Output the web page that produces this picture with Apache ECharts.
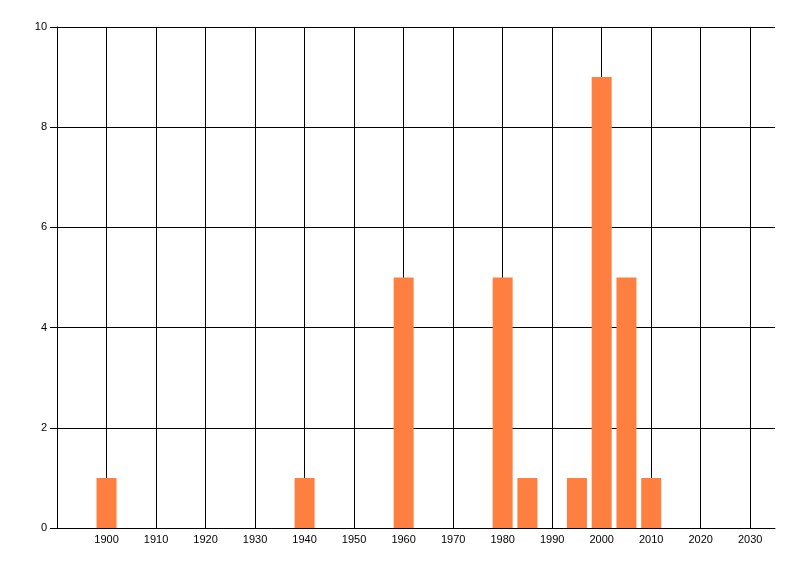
<!DOCTYPE html>
<html>
<head>
<meta charset="utf-8">
<script src="https://cdn.jsdelivr.net/npm/echarts@6/dist/echarts.min.js"></script>
<style>
  html, body { margin: 0; padding: 0; background: #fff; }
  #chart { width: 800px; height: 576px; }
</style>
</head>
<body>
<div id="chart"></div>
<script>
var years = [1900, 1940, 1960, 1980, 1985, 1995, 2000, 2005, 2010];
var counts = [1, 1, 5, 5, 1, 1, 9, 5, 1];
var xTicks = [1900, 1910, 1920, 1930, 1940, 1950, 1960, 1970, 1980, 1990, 2000, 2010, 2020, 2030];

var chart = echarts.init(document.getElementById('chart'));

var barData = [];
for (var i = 0; i < years.length; i++) {
  barData.push([years[i], counts[i]]);
}

// vertical grid lines at the decade ticks (no line at the right edge)
var gridLines = [];
for (var j = 0; j < xTicks.length; j++) {
  gridLines.push({ xAxis: xTicks[j] });
}

var option = {
  animation: false,
  textStyle: { fontFamily: 'Liberation Sans', fontSize: 11, color: '#000' },
  grid: { left: 57, right: 25, top: 27, bottom: 48 },
  xAxis: {
    type: 'value',
    min: 1890,
    max: 2035,
    interval: 10,
    axisLine: { lineStyle: { color: '#000', width: 1 } },
    axisTick: { show: false },
    splitLine: { show: false },
    axisLabel: {
      color: '#000', fontSize: 11, margin: 6,
      showMinLabel: false, showMaxLabel: false,
      formatter: function (v) { return String(v); }
    }
  },
  yAxis: {
    type: 'value',
    min: 0,
    max: 10,
    interval: 2,
    axisLine: { show: true, lineStyle: { color: '#000', width: 1 } },
    axisTick: { show: true, length: 7, lineStyle: { color: '#000' } },
    splitLine: { show: true, lineStyle: { color: '#000', width: 1 } },
    axisLabel: { color: '#000', fontSize: 11, margin: 10 }
  },
  series: [
    {
      type: 'bar',
      data: barData,
      barWidth: 20,
      itemStyle: { color: '#FF7F40' },
      markLine: {
        silent: true,
        symbol: 'none',
        label: { show: false },
        lineStyle: { color: '#000', type: 'solid', width: 1 },
        data: gridLines,
        z: 1
      },
      z: 3
    }
  ]
};

chart.setOption(option);
</script>
</body>
</html>
